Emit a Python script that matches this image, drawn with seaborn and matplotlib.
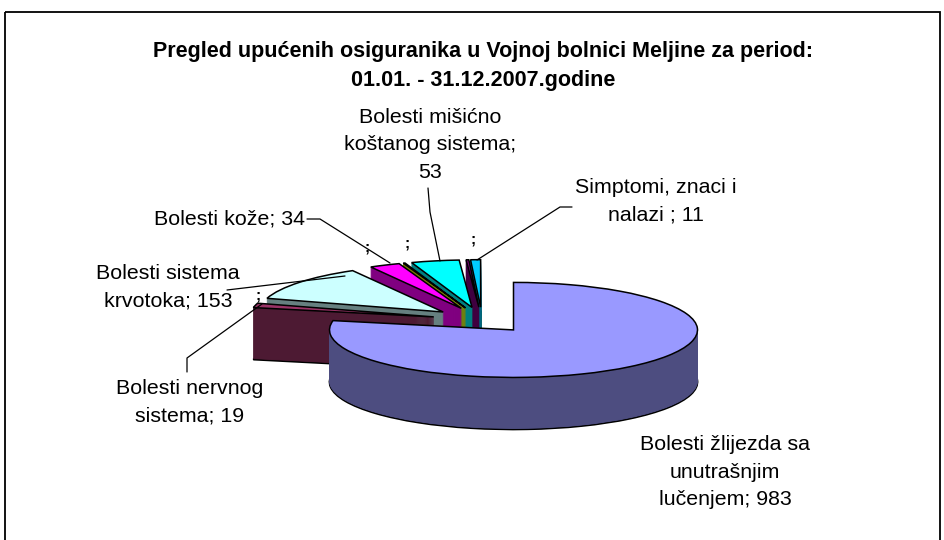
import numpy as np
import matplotlib
matplotlib.use("Agg")
import matplotlib.pyplot as plt
import matplotlib.colors as mcolors
import seaborn as sns

sns.set_theme(style="white")
plt.rcParams['font.family'] = ['Liberation Sans', 'DejaVu Sans']

# podaci (redoslijed u smjeru kazaljke od 12 sati)
categories = ["Bolesti žlijezda sa\nunutrašnjim\nlučenjem", "Bolesti nervnog\nsistema",
              "Bolesti sistema\nkrvotoka", "Bolesti kože", "",
              "Bolesti mišićno\nkoštanog sistema", "", "Simptomi, znaci i\nnalazi "]
values = [983, 19, 153, 34, 2, 53, 3, 11]
label_sep = [" ", " ", " ", " ", " ", "\n", " ", " "]
colors = ["#9999FF", "#993366", "#CCFFFF", "#FF00FF", "#FFFF00", "#00FFFF", "#800080", "#00CCFF"]

title = "Pregled upućenih osiguranika u Vojnoj bolnici Meljine za period:\n01.01. - 31.12.2007.godine"

W, H = 944, 540
cx, cy = 482, 320          # centar pite u pikselima
rx, ry = 184, 47.5         # poluose elipse
depth = 52                 # debljina pite u pikselima
explode = 0.27

fig = plt.figure(figsize=(W / 100, H / 100), dpi=100)
fig.patch.set_facecolor("white")
ax = fig.add_axes([0, 0, 1, 1])

side_colors = [tuple(c * 0.5 for c in mcolors.to_rgb(col)) for col in colors]
n_layers = depth
dz = depth / ry / n_layers

for k in range(n_layers, 0, -1):
    wedges, _ = ax.pie(values, explode=[explode] * len(values), colors=side_colors,
                       startangle=90, counterclock=False, center=(0, -k * dz),
                       wedgeprops=dict(linewidth=0.6))
    for w in wedges:
        if k == n_layers:
            w.set_edgecolor("black")
            w.set_linewidth(1.3)
        else:
            w.set_edgecolor(w.get_facecolor())

top, _ = ax.pie(values, explode=[explode] * len(values), colors=colors,
                startangle=90, counterclock=False, center=(0, 0),
                wedgeprops=dict(edgecolor="black", linewidth=1.1))

# vertikalne ivice bočnih strana
zb = n_layers * dz
for w in top:
    c = np.array(w.center)
    t1, t2 = w.theta1, w.theta2
    angs = [t1, t2] + [a for a in (180, 360, 540) if t1 < a < t2]
    for a in angs:
        if np.sin(np.radians(a)) <= 0.05:
            px = c[0] + np.cos(np.radians(a))
            py = c[1] + np.sin(np.radians(a))
            ax.plot([px, px], [py, py - zb], color="black", lw=1.1, zorder=5)

ax.set_aspect("auto")
ax.set_xlim(-cx / rx, (W - cx) / rx)
ax.set_ylim((cy - H) / ry, cy / ry)
ax.axis("off")

# sloj za tekst u pikselima
ov = fig.add_axes([0, 0, 1, 1], facecolor="none")
ov.set_xlim(0, W)
ov.set_ylim(H, 0)
ov.axis("off")
ov.add_patch(plt.Rectangle((5, 12), 935, 540, fill=False, edgecolor="black", lw=1.3))

ov.text(483, 66, title, ha="center", va="center", fontsize=15.5, fontweight="bold",
        linespacing=1.45, color="black")

lab_kw = dict(ha="center", va="center", fontsize=15.4, linespacing=1.55, color="black")
labels = [f"{c};{s}{v}" for c, s, v in zip(categories, label_sep, values)]
ov.text(725, 472, labels[0], **lab_kw)
ov.text(190, 402, labels[1], **lab_kw)
ov.text(168, 287, labels[2], **lab_kw)
ov.text(230, 219, labels[3], **lab_kw)
ov.text(430, 145, labels[5], **lab_kw)
ov.text(656, 201, labels[7], **lab_kw)
for x, y in [(367, 247), (407, 243), (473, 240), (258, 295)]:
    ov.text(x, y, ";", ha="center", va="center", fontsize=11, fontweight="bold", color="black")

leaders = [
    ([187, 187, 262], [372, 358, 304]),
    ([227, 345], [290, 276]),
    ([307, 320, 390], [219, 219, 263]),
    ([428, 430, 440], [188, 212, 261]),
    ([572, 560, 477], [207, 207, 260]),
]
for xs, ys in leaders:
    ov.plot(xs, ys, color="black", lw=0.9)

fig.savefig("out.png", dpi=100, facecolor="white")
